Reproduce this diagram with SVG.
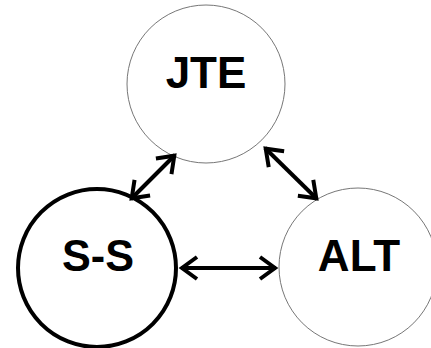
<svg xmlns="http://www.w3.org/2000/svg" width="431" height="348" viewBox="0 0 431 348">
<style>
.thin{fill:#fff;stroke:#777;stroke-width:1}
.thick{fill:#fff;stroke:#000;stroke-width:4}
.lbl{font-family:"Liberation Sans",Arial,sans-serif;font-weight:bold;font-size:44px;text-anchor:middle;fill:#000}
.conn{stroke:#000;stroke-width:4;fill:none;marker-start:url(#ah);marker-end:url(#ah)}
</style>
<defs>
<marker id="ah" markerUnits="userSpaceOnUse" markerWidth="28" markerHeight="28" refX="21" refY="14" orient="auto-start-reverse" viewBox="0 0 28 28">
<path d="M5,3 L20,14 L5,25" fill="none" stroke="#000" stroke-width="4" stroke-linejoin="miter"/>
</marker>
</defs>
<g id="node-jte">
<circle class="thin" cx="206" cy="84" r="79"/>
<text class="lbl" x="206" y="88">JTE</text>
</g>
<g id="node-ss">
<circle class="thick" cx="97" cy="268" r="79"/>
<text class="lbl" x="98" y="271" textLength="72" lengthAdjust="spacingAndGlyphs">S-S</text>
</g>
<g id="node-alt">
<circle class="thin" cx="358" cy="267" r="79"/>
<text class="lbl" x="359" y="271">ALT</text>
</g>
<g id="connectors">
<line class="conn" x1="175" y1="155" x2="131" y2="199"/>
<line class="conn" x1="265" y1="148" x2="317" y2="199"/>
<line class="conn" x1="181" y1="268" x2="276" y2="268"/>
</g>
</svg>
